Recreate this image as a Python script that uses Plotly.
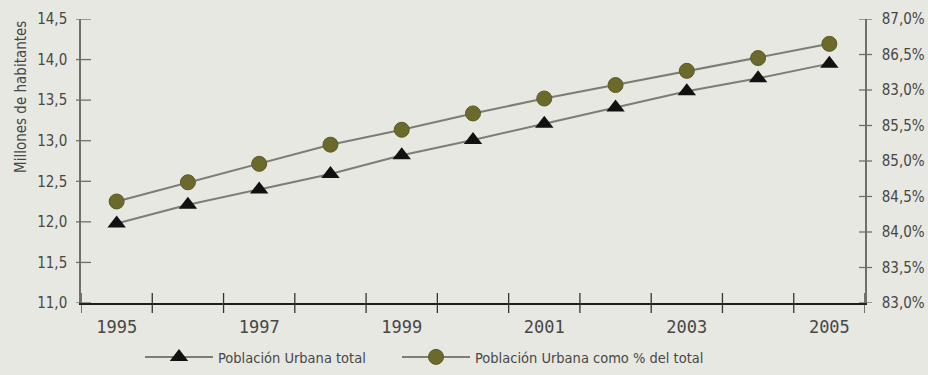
import plotly.graph_objects as go

# Population series, 1995-2005
years = [1995, 1996, 1997, 1998, 1999, 2000, 2001, 2002, 2003, 2004, 2005]
urban_total = [11.98, 12.21, 12.40, 12.59, 12.82, 13.01, 13.21, 13.41, 13.61, 13.77, 13.95]  # millions
urban_share = [84.43, 84.70, 84.96, 85.23, 85.44, 85.67, 85.88, 86.07, 86.27, 86.45, 86.65]  # % of total

year_labels = ["1995", "1997", "1999", "2001", "2003", "2005"]
left_ticks = [11.0, 11.5, 12.0, 12.5, 13.0, 13.5, 14.0, 14.5]
left_labels = ["11,0", "11,5", "12,0", "12,5", "13,0", "13,5", "14,0", "14,5"]
right_ticks = [83.0, 83.5, 84.0, 84.5, 85.0, 85.5, 86.0, 86.5, 87.0]
right_labels = ["83,0%", "83,5%", "84,0%", "84,5%", "85,0%", "85,5%", "83,0%", "86,5%", "87,0%"]

BG = "#e8e8e3"
TXT = "#474745"
AXIS = "#707069"
FONT = "DejaVu Sans Condensed, DejaVu Sans, sans-serif"

x_range = [years[0] - 0.5, years[-1] + 0.5]
boundaries = [y + 0.5 for y in range(years[0] - 1, years[-1] + 1)]
left_range = [left_ticks[0], left_ticks[-1]]
right_range = [right_ticks[0], right_ticks[-1]]

fig = go.Figure()

fig.add_trace(go.Scatter(
    x=years, y=urban_total, name="Población Urbana total",
    mode="lines+markers",
    line=dict(color="#7d7d76", width=2),
    marker=dict(symbol="triangle-up", size=16, color="#111111"),
    xaxis="x", yaxis="y", legend="legend",
))
fig.add_trace(go.Scatter(
    x=years, y=urban_share, name="Población Urbana como % del total",
    mode="lines+markers",
    line=dict(color="#7d7d76", width=2),
    marker=dict(symbol="circle", size=15, color="#6b6a2c",
                line=dict(color="#5a5922", width=1)),
    xaxis="x", yaxis="y2", legend="legend2",
))

# tick marks that cross the axis lines
shapes = []
for b in boundaries:
    shapes.append(dict(type="line", xref="x", yref="paper", ysizemode="pixel",
                       yanchor=0, x0=b, x1=b, y0=-10, y1=10,
                       line=dict(color="#333330", width=1.3)))
for v in left_ticks:
    shapes.append(dict(type="line", xref="paper", yref="y", xsizemode="pixel",
                       xanchor=0, x0=-5, x1=10, y0=v, y1=v,
                       line=dict(color=AXIS, width=1.3)))
for v in right_ticks:
    shapes.append(dict(type="line", xref="paper", yref="y2", xsizemode="pixel",
                       xanchor=1, x0=-6, x1=7, y0=v, y1=v,
                       line=dict(color=AXIS, width=1.3)))

tick_font = dict(family=FONT, size=15, color=TXT)
legend_common = dict(
    orientation="h", xanchor="left", y=-0.19, yanchor="middle",
    font=dict(family=FONT, size=14.5, color=TXT),
    bgcolor="rgba(0,0,0,0)", itemwidth=68,
)

fig.update_layout(
    width=928, height=375,
    paper_bgcolor=BG, plot_bgcolor=BG,
    margin=dict(l=81, r=63, t=19, b=72, autoexpand=False),
    font=dict(family=FONT, color=TXT),
    xaxis=dict(
        range=x_range, tickvals=years[::2], ticktext=year_labels,
        ticks="", showline=True, linecolor="#1e1e1c", linewidth=2,
        showgrid=False, zeroline=False, automargin=False,
        tickfont=dict(family="DejaVu Sans Mono, monospace", size=17, color=TXT),
        ticklabelstandoff=8,
    ),
    yaxis=dict(
        range=left_range, tickvals=left_ticks, ticktext=left_labels,
        ticks="", showline=True, linecolor=AXIS, linewidth=1.5,
        showgrid=False, zeroline=False, tickfont=tick_font,
        ticklabelstandoff=9, automargin=False,
    ),
    yaxis2=dict(
        range=right_range, overlaying="y", anchor="x", side="right",
        tickvals=right_ticks, ticktext=right_labels,
        ticks="", showline=True, linecolor=AXIS, linewidth=1.5,
        showgrid=False, zeroline=False, tickfont=tick_font,
        ticklabelstandoff=12, automargin=False,
    ),
    legend=dict(x=(140 - 81) / 784, **legend_common),
    legend2=dict(x=(397 - 81) / 784, **legend_common),
    shapes=shapes,
    annotations=[dict(
        text="Millones de habitantes", textangle=-90,
        xref="paper", yref="paper", x=-60 / 784, y=1.0,
        xanchor="center", yanchor="top", showarrow=False,
        font=dict(family=FONT, size=15, color=TXT),
    )],
    showlegend=True,
)

fig.write_html("out.html", config=dict(displayModeBar=False))
